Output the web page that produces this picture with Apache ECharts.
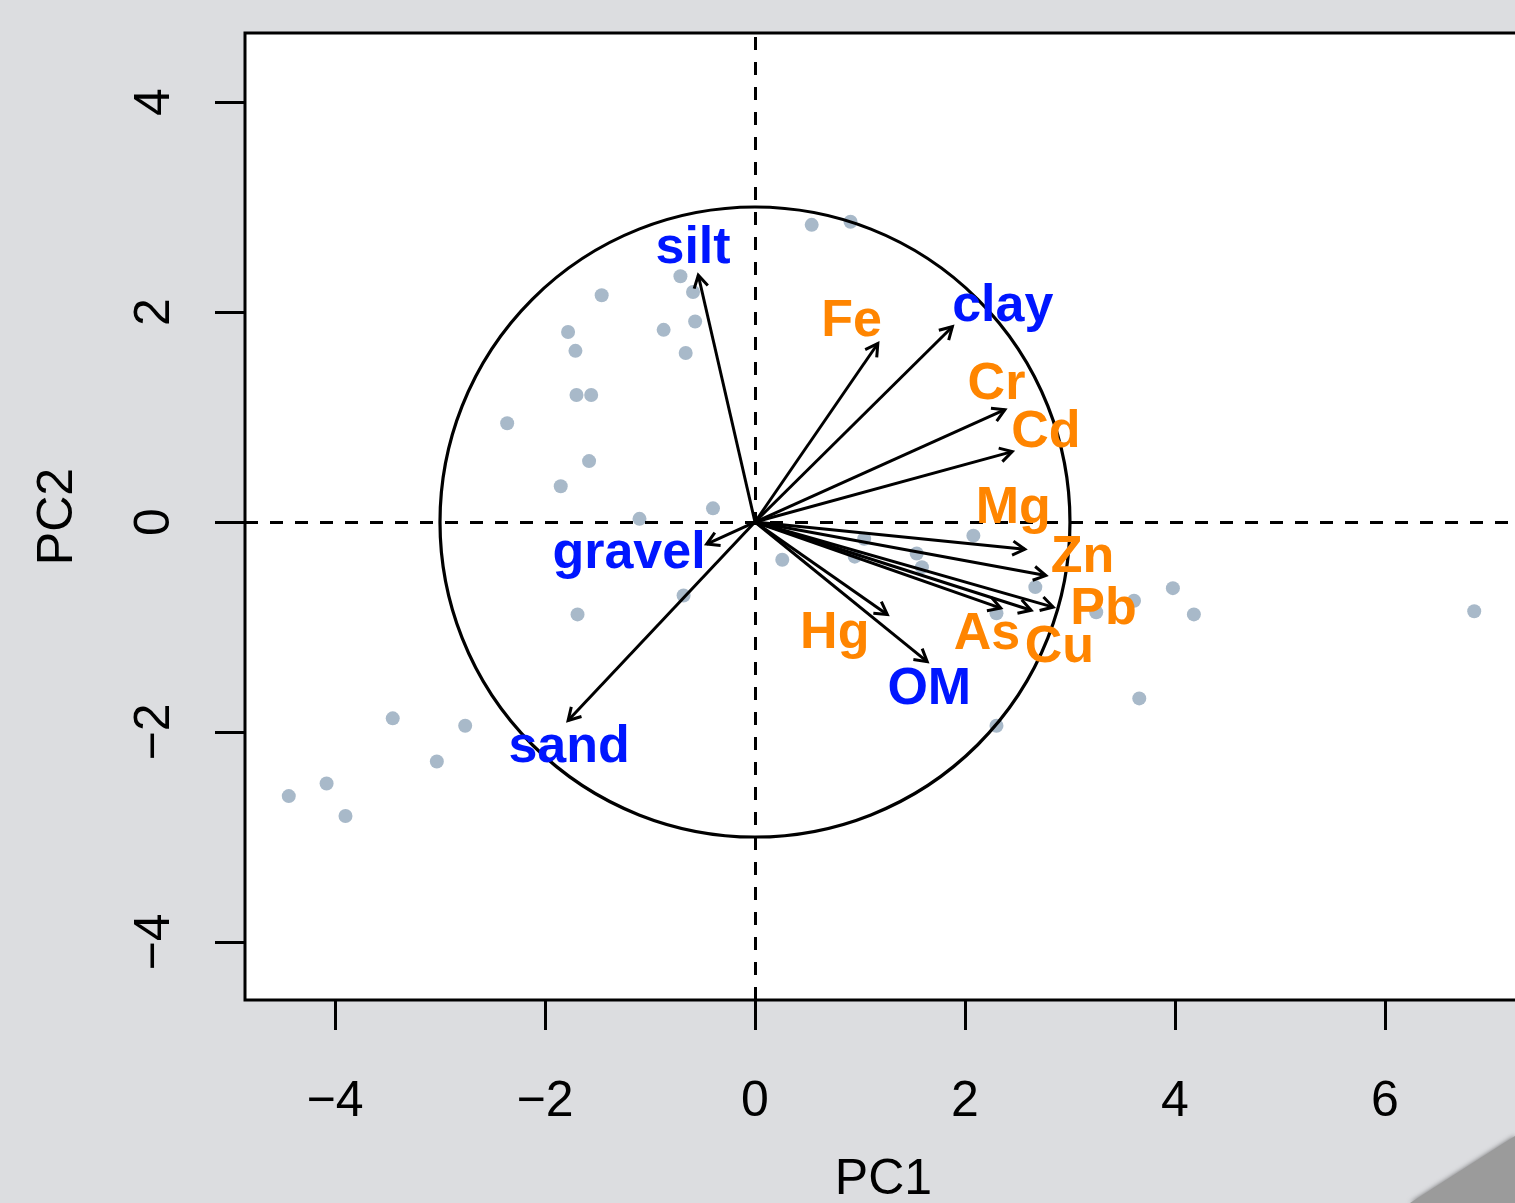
<!DOCTYPE html>
<html>
<head>
<meta charset="utf-8">
<title>PCA biplot</title>
<script src="https://cdn.jsdelivr.net/npm/echarts@6/dist/echarts.min.js"></script>
<style>
  html, body { margin: 0; padding: 0; background: #dcdde0; }
  #chart { width: 1515px; height: 1203px; }
</style>
</head>
<body>
<div id="chart"></div>
<script>
// sample scores on PC1 / PC2
const scoreX = [0.54, 0.91, -0.71, -0.59, -1.46, -1.78, -1.71, -0.87, -0.57, -0.66,
  -1.70, -1.56, -2.36, -1.58, -1.85, -0.40, -1.10, 0.26, -0.68, -1.69,
  1.04, 0.95, 1.54, 1.59, 2.08, 2.67, 2.30, 2.30, 3.25, 3.61,
  3.98, 4.18, 3.66, 6.85, -3.45, -2.76, -3.03, -4.08, -4.44, -3.90];
const scoreY = [2.83, 2.86, 2.34, 2.19, 2.16, 1.81, 1.63, 1.83, 1.91, 1.61,
  1.21, 1.21, 0.94, 0.58, 0.34, 0.13, 0.03, -0.36, -0.70, -0.88,
  -0.16, -0.33, -0.30, -0.43, -0.13, -0.62, -0.87, -1.94, -0.86, -0.75,
  -0.63, -0.88, -1.68, -0.85, -1.87, -1.94, -2.28, -2.49, -2.61, -2.80];

// variable loadings (arrow tips) and where their names sit
const varNames = ['silt', 'Fe', 'clay', 'Cr', 'Cd', 'Mg', 'Zn', 'Pb', 'Cu', 'As', 'Hg', 'OM', 'gravel', 'sand'];
const varKind = ['soil', 'metal', 'soil', 'metal', 'metal', 'metal', 'metal', 'metal', 'metal', 'metal', 'metal', 'soil', 'soil', 'soil'];
const arrowX = [-0.54, 1.17, 1.88, 2.38, 2.45, 2.57, 2.77, 2.84, 2.63, 2.34, 1.26, 1.64, -0.46, -1.78];
const arrowY = [2.35, 1.70, 1.86, 1.07, 0.67, -0.26, -0.51, -0.81, -0.84, -0.82, -0.88, -1.33, -0.21, -1.89];
const labelX = [-0.59, 0.92, 2.36, 2.30, 2.77, 2.46, 3.12, 3.32, 2.90, 2.21, 0.76, 1.66, -1.20, -1.77];
const labelY = [2.63, 1.94, 2.08, 1.34, 0.88, 0.16, -0.31, -0.81, -1.17, -1.04, -1.03, -1.57, -0.27, -2.12];

const circleRadius = 3;
const xTicks = [-4, -2, 0, 2, 4, 6];
const yTicks = [-4, -2, 0, 2, 4];

const kindColor = { soil: '#0016ff', metal: '#ff8500' };
const font = 'Liberation Sans';

const chart = echarts.init(document.getElementById('chart'));

function renderArrow(params, api) {
  const start = api.coord([0, 0]);
  const end = api.coord([api.value(0), api.value(1)]);
  const ang = Math.atan2(end[1] - start[1], end[0] - start[0]);
  const len = 14;
  const spread = Math.PI / 6;
  const p1 = [end[0] - len * Math.cos(ang - spread), end[1] - len * Math.sin(ang - spread)];
  const p2 = [end[0] - len * Math.cos(ang + spread), end[1] - len * Math.sin(ang + spread)];
  return {
    type: 'group',
    children: [
      { type: 'line', shape: { x1: start[0], y1: start[1], x2: end[0], y2: end[1] },
        style: { stroke: '#000', lineWidth: 3 } },
      { type: 'polyline', shape: { points: [p1, end, p2] },
        style: { stroke: '#000', lineWidth: 3, fill: null } }
    ]
  };
}

function renderLabel(params, api) {
  const p = api.coord([api.value(0), api.value(1)]);
  const i = params.dataIndex;
  return {
    type: 'text',
    x: p[0],
    y: p[1] + 3,
    style: {
      text: varNames[i],
      fill: kindColor[varKind[i]],
      fontFamily: font,
      fontWeight: 'bold',
      fontSize: 52,
      align: 'center',
      verticalAlign: 'middle'
    }
  };
}

function renderCircle(params, api) {
  const c = api.coord([0, 0]);
  const r = api.size([circleRadius, circleRadius]);
  return {
    type: 'circle',
    shape: { cx: c[0], cy: c[1], r: r[0] },
    style: { stroke: '#000', lineWidth: 3.2, fill: null }
  };
}

const minusFmt = (v) => String(v).replace('-', '\u2212');

chart.setOption({
  animation: false,
  backgroundColor: '#dcdde0',
  grid: {
    left: 245,
    width: 1277,
    top: 33,
    height: 967,
    outerBoundsMode: 'none',
    containLabel: false,
    show: true,
    backgroundColor: '#fff',
    borderColor: '#000',
    borderWidth: 3
  },
  xAxis: {
    type: 'value',
    min: -4.857,
    max: 7.305,
    name: 'PC1',
    nameLocation: 'middle',
    nameGap: 155,
    nameTextStyle: { fontFamily: font, fontSize: 50, color: '#000' },
    axisLine: { show: false, onZero: false },
    splitLine: { show: false },
    axisTick: { show: true, length: 30, customValues: xTicks, lineStyle: { color: '#000', width: 3 } },
    axisLabel: { customValues: xTicks, margin: 77, fontFamily: font, fontSize: 50, color: '#000', formatter: minusFmt }
  },
  yAxis: {
    type: 'value',
    min: -4.552,
    max: 4.657,
    name: 'PC2',
    nameLocation: 'middle',
    nameGap: 162,
    nameRotate: 90,
    nameTextStyle: { fontFamily: font, fontSize: 50, color: '#000' },
    axisLine: { show: false, onZero: false },
    splitLine: { show: false },
    axisTick: { show: true, length: 30, customValues: yTicks, lineStyle: { color: '#000', width: 3 } },
    axisLabel: { customValues: yTicks, rotate: 90, margin: 65, fontFamily: font, fontSize: 50, color: '#000', formatter: minusFmt }
  },
  graphic: [{
    type: 'polygon',
    shape: { points: [[1410, 1203], [1515, 1136], [1515, 1203]] },
    style: { fill: '#9b9b9b', shadowBlur: 5, shadowColor: 'rgba(0,0,0,0.5)' },
    z: 100
  }],
  series: [
    {
      type: 'scatter',
      data: scoreX.map((x, i) => [x, scoreY[i]]),
      symbolSize: 14,
      itemStyle: { color: '#a8b9c9', opacity: 1 },
      z: 2,
      silent: true
    },
    {
      type: 'custom',
      renderItem: renderCircle,
      data: [[0, 0]],
      z: 3,
      silent: true,
      markLine: {
        silent: true,
        symbol: 'none',
        label: { show: false },
        lineStyle: { color: '#000', width: 3, type: [13, 12] },
        data: [{ xAxis: 0 }, { yAxis: 0 }]
      }
    },
    {
      type: 'custom',
      renderItem: renderArrow,
      data: arrowX.map((x, i) => [x, arrowY[i]]),
      z: 4,
      silent: true
    },
    {
      type: 'custom',
      renderItem: renderLabel,
      data: labelX.map((x, i) => [x, labelY[i]]),
      z: 5,
      silent: true
    }
  ]
});
</script>
</body>
</html>
